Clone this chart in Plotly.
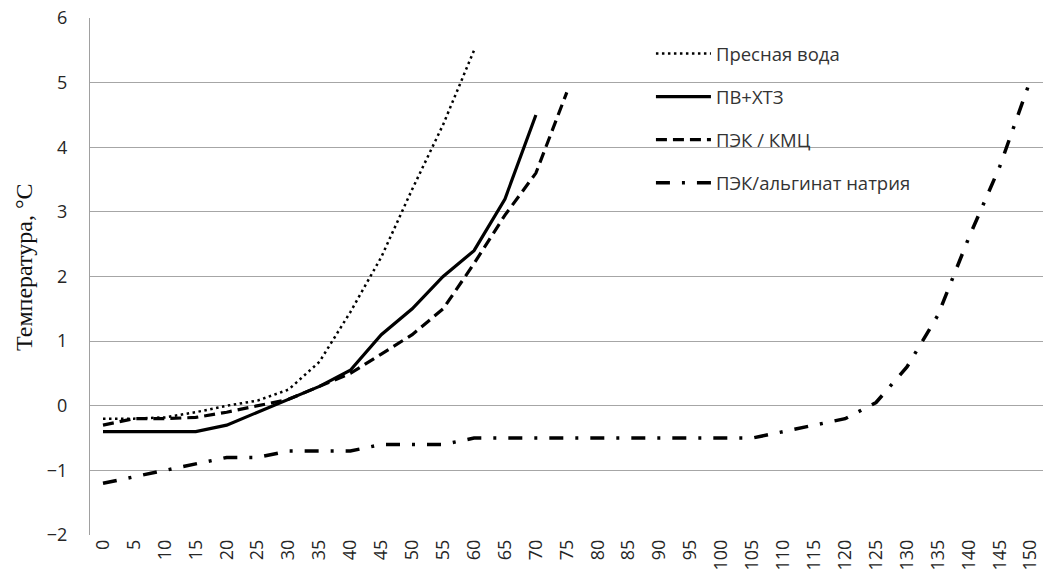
import plotly.graph_objects as go

# ---- data ----
time_fresh = [0, 5, 10, 15, 20, 25, 30, 35, 40, 45, 50, 55, 60]
fresh_water = [-0.2, -0.2, -0.18, -0.1, 0.0, 0.08, 0.25, 0.68, 1.45, 2.3, 3.35, 4.35, 5.5]

time_pv = [0, 5, 10, 15, 20, 25, 30, 35, 40, 45, 50, 55, 60, 65, 70]
pv_hts = [-0.4, -0.4, -0.4, -0.4, -0.3, -0.1, 0.1, 0.3, 0.55, 1.1, 1.5, 2.0, 2.4, 3.2, 4.5]

time_kmc = [0, 5, 10, 15, 20, 25, 30, 35, 40, 45, 50, 55, 60, 65, 70, 75]
pek_kmc = [-0.3, -0.2, -0.2, -0.18, -0.1, 0.0, 0.1, 0.3, 0.5, 0.8, 1.1, 1.5, 2.2, 2.95, 3.6, 4.85]

time_alg = [0, 5, 10, 15, 20, 25, 30, 35, 40, 45, 50, 55, 60, 65, 70, 75, 80, 85,
            90, 95, 100, 105, 110, 115, 120, 125, 130, 135, 140, 145, 150]
pek_alginate = [-1.2, -1.1, -1.0, -0.9, -0.8, -0.8, -0.7, -0.7, -0.7, -0.6, -0.6, -0.6,
                -0.5, -0.5, -0.5, -0.5, -0.5, -0.5, -0.5, -0.5, -0.5, -0.5,
                -0.4, -0.3, -0.2, 0.05, 0.6, 1.4, 2.6, 3.7, 5.05]

names = ["Пресная вода", "ПВ+ХТЗ", "ПЭК / КМЦ", "ПЭК/альгинат натрия"]
x_ticks = list(range(0, 151, 5))
y_ticks = [-2, -1, 0, 1, 2, 3, 4, 5, 6]

fig = go.Figure()
series = [
    (time_fresh, fresh_water, dict(color="black", width=2.5, dash="2.5px,3.5px")),
    (time_pv, pv_hts, dict(color="black", width=3.2)),
    (time_kmc, pek_kmc, dict(color="black", width=3.2, dash="11px,6px")),
    (time_alg, pek_alginate, dict(color="black", width=3.5, dash="14px,12px,3px,12px")),
]
for i, (xs, ys, ln) in enumerate(series):
    fig.add_trace(go.Scatter(x=xs, y=ys, mode="lines", name=names[i], line=ln,
                             legendgroup=f"g{i}", hoverinfo="skip"))

tick_font = dict(family="Open Sans, sans-serif", size=18, color="#262626")

fig.update_layout(
    width=1043, height=585,
    margin=dict(l=90, r=0, t=18, b=50),
    plot_bgcolor="white", paper_bgcolor="white",
    showlegend=True,
    legend=dict(
        x=0.5886, y=0.967, xanchor="left", yanchor="top",
        bgcolor="rgba(0,0,0,0)", borderwidth=0, itemwidth=55,
        font=dict(family="Open Sans, sans-serif", size=18.5, color="#333"),
        traceorder="grouped", tracegroupgap=16,
    ),
    xaxis=dict(
        range=[-2.1, 152.0], tickmode="array", tickvals=x_ticks,
        ticktext=[str(v) for v in x_ticks], tickangle=-90,
        tickfont=tick_font, showgrid=False, zeroline=False,
        showline=False, ticks="", automargin=False, ticklabeloverflow="allow",
    ),
    yaxis=dict(
        range=[-2, 6], tickmode="array", tickvals=y_ticks,
        tickfont=tick_font, showgrid=True, gridcolor="#a6a6a6", gridwidth=1,
        zeroline=False, showline=True, linecolor="#a0a0a0", linewidth=1,
        ticks="", ticklabelstandoff=18, automargin=False,
    ),
    annotations=[dict(
        text="Температура, °С", textangle=-90,
        xref="paper", yref="paper", x=(24 - 90) / 953, y=(535 - 267) / 517,
        xanchor="center", yanchor="middle", showarrow=False,
        font=dict(family="Liberation Serif, Times New Roman, serif", size=24, color="#111"),
    )],
)

fig.write_html(
    "out.html",
    config={"displayModeBar": False},
    post_script="document.body.style.margin='0';document.body.style.overflow='hidden';",
)
